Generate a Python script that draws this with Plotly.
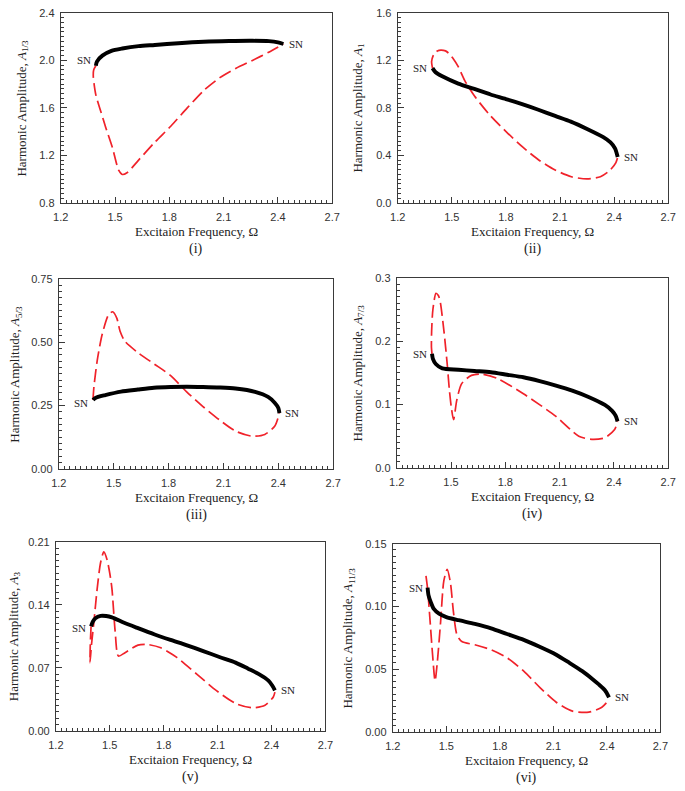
import plotly.graph_objects as go

# ---------------- data ----------------
omega_ticks = [1.2, 1.5, 1.8, 2.1, 2.4, 2.7]

# (i) A_1/3
p1_stable_x = [1.394, 1.40, 1.43, 1.48, 1.54, 1.63, 1.72, 1.85, 1.99, 2.13, 2.26, 2.35, 2.40, 2.43]
p1_stable_y = [1.955, 1.99, 2.04, 2.08, 2.10, 2.12, 2.13, 2.145, 2.157, 2.163, 2.165, 2.162, 2.152, 2.138]
p1_unstable_x = [1.394, 1.382, 1.38, 1.394, 1.421, 1.449, 1.485, 1.52, 1.54, 1.566, 1.629, 1.719, 1.809,
                 1.899, 1.989, 2.079, 2.169, 2.259, 2.349, 2.43]
p1_unstable_y = [1.955, 1.92, 1.862, 1.71, 1.572, 1.434, 1.269, 1.076, 1.04, 1.054, 1.159, 1.31, 1.448,
                 1.6, 1.745, 1.855, 1.935, 2.0, 2.069, 2.138]

# (ii) A_1
p2_stable_x = [1.393, 1.41, 1.447, 1.536, 1.625, 1.715, 1.80, 1.894, 1.98, 2.073, 2.16, 2.25, 2.34, 2.38, 2.405, 2.42]
p2_stable_y = [1.135, 1.10, 1.066, 1.005, 0.96, 0.913, 0.875, 0.83, 0.785, 0.733, 0.685, 0.623, 0.554, 0.51, 0.46, 0.387]
p2_unstable_x = [1.393, 1.388, 1.40, 1.42, 1.44, 1.465, 1.483, 1.51, 1.535, 1.572, 1.626, 1.715, 1.805, 1.894,
                 1.984, 2.073, 2.163, 2.25, 2.324, 2.378, 2.41, 2.42]
p2_unstable_y = [1.135, 1.19, 1.25, 1.28, 1.287, 1.28, 1.26, 1.21, 1.15, 1.03, 0.9, 0.733, 0.595, 0.47,
                 0.36, 0.277, 0.221, 0.202, 0.221, 0.277, 0.34, 0.387]

# (iii) A_5/3
p3_stable_x = [1.387, 1.40, 1.454, 1.54, 1.632, 1.72, 1.81, 1.90, 1.988, 2.08, 2.166, 2.273, 2.344, 2.38, 2.40, 2.406]
p3_stable_y = [0.272, 0.28, 0.291, 0.305, 0.313, 0.32, 0.323, 0.324, 0.323, 0.321, 0.317, 0.304, 0.284, 0.261, 0.24, 0.22]
p3_unstable_x = [1.387, 1.392, 1.41, 1.437, 1.472, 1.494, 1.517, 1.535, 1.561, 1.632, 1.721, 1.81, 1.899,
                 1.988, 2.077, 2.166, 2.255, 2.326, 2.38, 2.406]
p3_unstable_y = [0.272, 0.323, 0.427, 0.53, 0.608, 0.62, 0.595, 0.543, 0.504, 0.459, 0.414, 0.369, 0.304,
                 0.246, 0.194, 0.149, 0.129, 0.136, 0.168, 0.22]

# (iv) A_7/3
p4_stable_x = [1.395, 1.40, 1.416, 1.452, 1.541, 1.63, 1.72, 1.81, 1.90, 1.99, 2.08, 2.17, 2.26, 2.35, 2.39, 2.41, 2.42]
p4_stable_y = [0.18, 0.172, 0.164, 0.157, 0.155, 0.153, 0.151, 0.147, 0.143, 0.137, 0.13, 0.122, 0.112,
               0.0993, 0.09, 0.082, 0.0734]
p4_unstable_x = [1.395, 1.392, 1.393, 1.40, 1.417, 1.43, 1.44, 1.461, 1.479, 1.491, 1.502, 1.514, 1.532,
                 1.559, 1.613, 1.667, 1.757, 1.9, 2.08, 2.206, 2.278, 2.35, 2.404, 2.42]
p4_unstable_y = [0.18, 0.19, 0.216, 0.25, 0.2756, 0.272, 0.263, 0.216, 0.164, 0.123, 0.095, 0.076, 0.107,
                 0.133, 0.146, 0.148, 0.141, 0.117, 0.0812, 0.05, 0.045, 0.0476, 0.0605, 0.0734]

# (v) A_3
p5_stable_x = [1.396, 1.405, 1.42, 1.449, 1.48, 1.512, 1.58, 1.657, 1.75, 1.838, 1.93, 2.02, 2.11, 2.2,
               2.27, 2.33, 2.383, 2.405, 2.419]
p5_stable_y = [0.116, 0.121, 0.125, 0.1276, 0.1275, 0.126, 0.12, 0.114, 0.107, 0.101, 0.095, 0.0886, 0.082,
               0.0758, 0.069, 0.063, 0.0558, 0.05, 0.0449]
p5_unstable_x = [1.396, 1.392, 1.39, 1.398, 1.412, 1.43, 1.449, 1.467, 1.485, 1.50, 1.512, 1.53, 1.548,
                 1.585, 1.657, 1.711, 1.784, 1.875, 1.984, 2.092, 2.201, 2.292, 2.364, 2.41, 2.419]
p5_unstable_y = [0.116, 0.098, 0.0758, 0.095, 0.1214, 0.158, 0.187, 0.1987, 0.19, 0.175, 0.158, 0.1105, 0.083,
                 0.0868, 0.0952, 0.0959, 0.0922, 0.0813, 0.063, 0.0449, 0.0303, 0.0256, 0.0284, 0.0376, 0.043]

# (vi) A_11/3
p6_stable_x = [1.395, 1.40, 1.413, 1.43, 1.459, 1.50, 1.569, 1.66, 1.751, 1.84, 1.934, 2.02, 2.116, 2.19,
               2.262, 2.32, 2.353, 2.39, 2.412]
p6_stable_y = [0.115, 0.109, 0.1034, 0.098, 0.0942, 0.0915, 0.089, 0.086, 0.0825, 0.078, 0.0733, 0.068,
               0.0615, 0.055, 0.0484, 0.042, 0.038, 0.033, 0.0275]
p6_unstable_x = [1.386, 1.395, 1.408, 1.423, 1.437, 1.45, 1.468, 1.486, 1.505, 1.523, 1.54, 1.56, 1.587,
                 1.66, 1.751, 1.842, 1.934, 2.025, 2.116, 2.207, 2.299, 2.372, 2.412]
p6_unstable_y = [0.1243, 0.114, 0.0903, 0.0615, 0.0406, 0.0563, 0.0877, 0.1204, 0.1296, 0.119, 0.0955,
                 0.0772, 0.072, 0.0694, 0.0654, 0.0589, 0.0484, 0.0353, 0.0236, 0.0165, 0.0157, 0.0196, 0.0255]

harmonic_subs = ["1/3", "1", "5/3", "7/3", "3", "11/3"]
panel_labels = ["(i)", "(ii)", "(iii)", "(iv)", "(v)", "(vi)"]
y_ranges = [(0.8, 2.4), (0.0, 1.6), (0.0, 0.75), (0.0, 0.3), (0.0, 0.21), (0.0, 0.15)]
y_dticks = [0.4, 0.4, 0.25, 0.1, 0.07, 0.05]
y_formats = [".1f", ".1f", ".2f", ".1f", ".2f", ".2f"]

stable = [(p1_stable_x, p1_stable_y), (p2_stable_x, p2_stable_y), (p3_stable_x, p3_stable_y),
          (p4_stable_x, p4_stable_y), (p5_stable_x, p5_stable_y), (p6_stable_x, p6_stable_y)]
unstable = [(p1_unstable_x, p1_unstable_y), (p2_unstable_x, p2_unstable_y), (p3_unstable_x, p3_unstable_y),
            (p4_unstable_x, p4_unstable_y), (p5_unstable_x, p5_unstable_y), (p6_unstable_x, p6_unstable_y)]

# ---------------- layout (pixel boxes of each plot area) ----------------
W, H = 685, 791
boxes = [(54, 332, 7, 200), (399, 676, 7, 200),
         (52, 333, 277, 470), (398, 676, 276, 469),
         (49, 325, 544, 736), (394, 668, 546, 737)]
ytitle_x = [15, 359, 8, 359, 6, 349]
# SN label offsets (px) for left / right saddle-node points
sn_left_shift = [(-3, 6), (-3, 0), (-3, -3), (-3, 0), (-3, -2), (-3, 0)]
sn_right_shift = [(4, 0), (4, 0), (4, 0), (4, 0), (4, 0), (4, 0)]

RED = "#f0222a"
SERIF = "Liberation Serif, Times New Roman, serif"
SANS = "Liberation Sans, Arial, sans-serif"
AX = "#3a3a3a"

fig = go.Figure()
annotations = []
layout = {}

for i in range(6):
    sfx = "" if i == 0 else str(i + 1)
    xa, ya = "x" + sfx, "y" + sfx
    l, r, t, b = boxes[i]
    ux, uy = unstable[i]
    sx, sy = stable[i]
    fig.add_trace(go.Scatter(x=ux, y=uy, xaxis=xa, yaxis=ya, mode="lines", showlegend=False,
                             hoverinfo="skip",
                             line=dict(color=RED, width=1.7, dash="13px,5px", shape="spline", smoothing=0.7)))
    fig.add_trace(go.Scatter(x=sx, y=sy, xaxis=xa, yaxis=ya, mode="lines", showlegend=False,
                             hoverinfo="skip",
                             line=dict(color="black", width=3.9, shape="spline", smoothing=0.7)))
    ylo, yhi = y_ranges[i]
    common = dict(showline=True, linecolor=AX, linewidth=1, mirror=True, ticks="inside",
                  tickcolor=AX, tickwidth=1, ticklen=6, showgrid=False, zeroline=False,
                  tickfont=dict(family=SANS, size=11, color="#333"))
    layout["xaxis" + sfx] = dict(common, domain=[l / W, r / W], anchor=ya, range=[1.2, 2.7],
                                 tickvals=omega_ticks, tickformat=".1f", ticklabelstandoff=4,
                                 minor=dict(dtick=0.03, ticks="inside", ticklen=3, tickcolor=AX, tickwidth=1))
    layout["yaxis" + sfx] = dict(common, domain=[1 - b / H, 1 - t / H], anchor=xa, range=[ylo, yhi],
                                 tick0=ylo, dtick=y_dticks[i], tickformat=y_formats[i], ticklabelstandoff=3,
                                 minor=dict(dtick=y_dticks[i] / 10, ticks="inside", ticklen=3,
                                            tickcolor=AX, tickwidth=1))
    cx = (l + r) / 2 / W
    annotations.append(dict(text="Excitaion Frequency, \u03a9", xref="paper", yref="paper",
                            x=cx, y=1 - (b + 29) / H, showarrow=False, xanchor="center", yanchor="middle",
                            font=dict(family=SERIF, size=13, color="#222")))
    annotations.append(dict(text=panel_labels[i], xref="paper", yref="paper",
                            x=cx, y=1 - (b + 47) / H, showarrow=False, xanchor="center", yanchor="middle",
                            font=dict(family=SERIF, size=14, color="#222")))
    annotations.append(dict(text="Harmonic Amplitude, <i>A</i><sub>" + harmonic_subs[i] + "</sub>",
                            xref="paper", yref="paper", x=ytitle_x[i] / W, y=1 - (t + b) / 2 / H,
                            textangle=-90, showarrow=False, xanchor="center", yanchor="middle",
                            font=dict(family=SERIF, size=13, color="#222")))
    annotations.append(dict(text="SN", xref=xa, yref=ya, x=sx[0], y=sy[0], showarrow=False,
                            xanchor="right", yanchor="middle", xshift=sn_left_shift[i][0],
                            yshift=sn_left_shift[i][1], font=dict(family=SERIF, size=11, color="#222")))
    annotations.append(dict(text="SN", xref=xa, yref=ya, x=sx[-1], y=sy[-1], showarrow=False,
                            xanchor="left", yanchor="middle", xshift=sn_right_shift[i][0],
                            yshift=sn_right_shift[i][1], font=dict(family=SERIF, size=11, color="#222")))

fig.update_layout(width=W, height=H, margin=dict(l=0, r=0, t=0, b=0), paper_bgcolor="white",
                  plot_bgcolor="white", showlegend=False, hovermode=False,
                  annotations=annotations, **layout)
fig.write_html("out.html", config={"displayModeBar": False},
               post_script="document.body.style.margin='0px';document.body.style.overflow='hidden';")
